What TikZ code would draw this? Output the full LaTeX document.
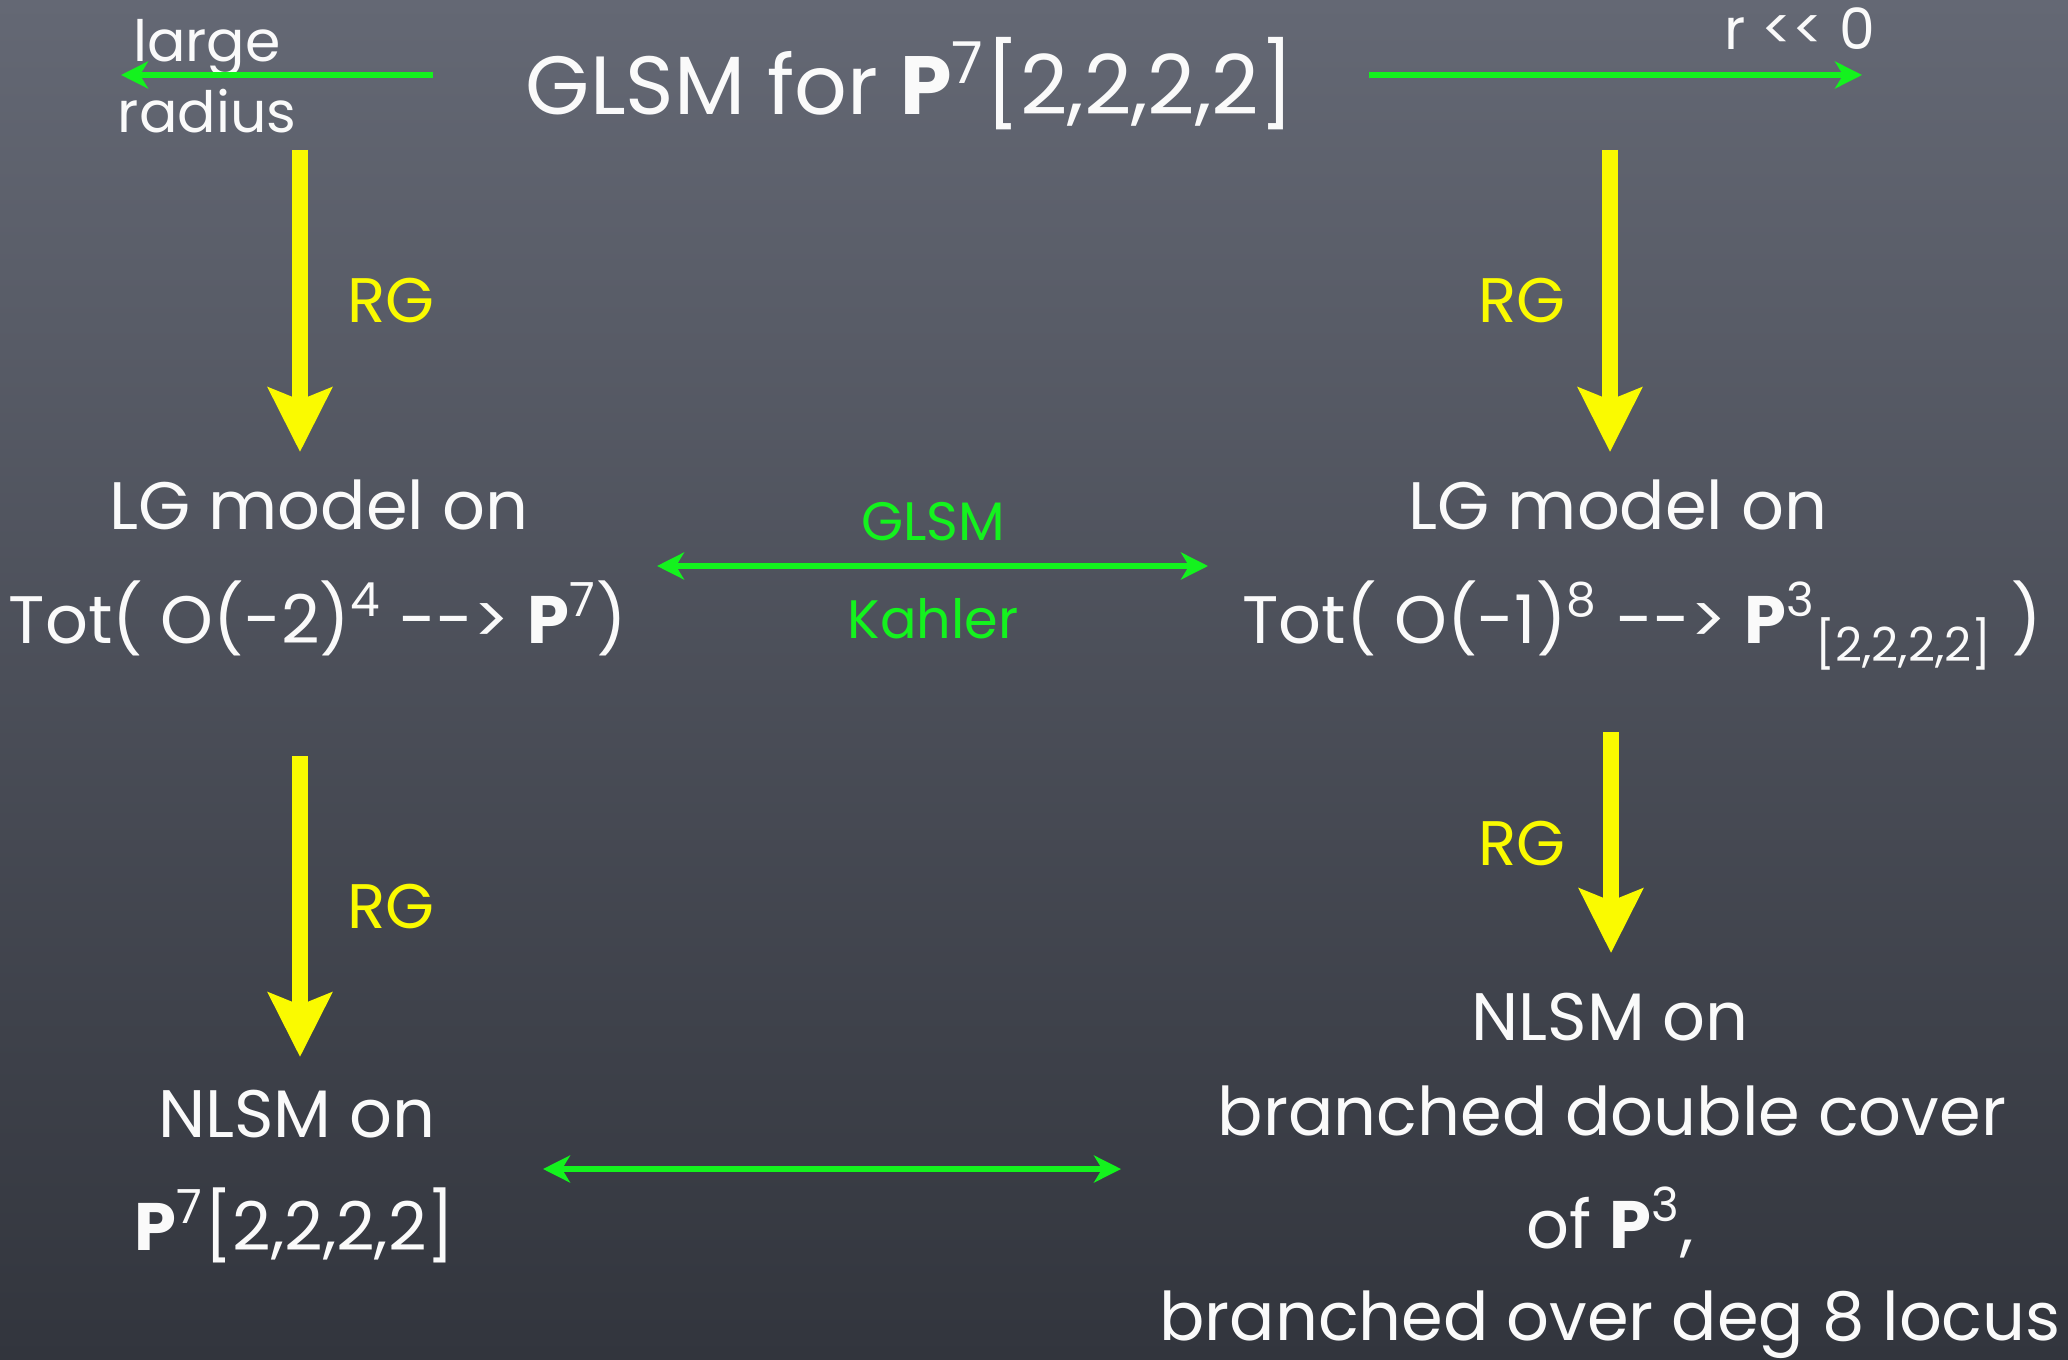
\documentclass[tikz,border=0pt]{standalone}
\usepackage{fontspec}
\setmainfont{Poppins}
\usetikzlibrary{arrows.meta}

\definecolor{boardtop}{RGB}{100,104,116}
\definecolor{boardbot}{RGB}{50,53,61}
\definecolor{chalk}{RGB}{250,250,250}
\definecolor{rgyellow}{RGB}{250,250,0}
\definecolor{glsmgreen}{RGB}{20,242,30}

\tikzset{
  chalktext/.style={text=chalk, inner sep=0pt, anchor=base},
  bigtext/.style={chalktext, font=\fontsize{19.1}{23}\selectfont},
  smalltext/.style={chalktext, font=\fontsize{16.2}{19}\selectfont},
  rglabel/.style={text=rgyellow, inner sep=0pt, anchor=base, font=\fontsize{17.9}{21}\selectfont},
  greenlabel/.style={text=glsmgreen, inner sep=0pt, anchor=base, font=\fontsize{15.4}{18}\selectfont},
  rgarrow/.style={draw=rgyellow, line width=4.5pt, -{Stealth[length=6.4mm, width=6.3mm, inset=1.2mm, fill=rgyellow]}},
  flowarrow/.style={draw=glsmgreen, line width=1.5pt, -{Stealth[length=2.7mm, width=2.7mm, inset=0.8mm]}},
  dualarrow/.style={draw=glsmgreen, line width=1.5pt, {Stealth[length=2.7mm, width=2.7mm, inset=0.8mm]}-{Stealth[length=2.7mm, width=2.7mm, inset=0.8mm]}}
}

\begin{document}
\begin{tikzpicture}
\fill[top color=boardtop, bottom color=boardbot] (0,0) rectangle (20.68,13.59);
\useasboundingbox (0,0) rectangle (20.68,13.59);

\node[chalktext, font=\fontsize{23.5}{28}\selectfont] (title) at (9.10,12.44) {GLSM for \textbf{P}\textsuperscript{7}[2,2,2,2]};
\node[smalltext] (large) at (2.07,12.97) {large};
\node[smalltext] (radius) at (2.07,12.26) {radius};
\node[smalltext] (rneg) at (18.00,13.09) {r {<}{<} 0};

\node[bigtext] (lgL) at (3.19,8.29) {LG model on};
\node[bigtext] (totL) at (3.18,7.16) {Tot( O(-2)\textsuperscript{4} {-}{-}> \textbf{P}\textsuperscript{7})};
\node[bigtext] (lgR) at (16.18,8.29) {LG model on};
\node[bigtext] (totR) at (16.42,7.16) {Tot( O(-1)\textsuperscript{8} {-}{-}> \textbf{P}\textsuperscript{3}\textsubscript{[2,2,2,2]} )};

\node[bigtext] (nlsmL) at (2.97,2.22) {NLSM on};
\node[bigtext] (quadL) at (2.95,1.09) {\textbf{P}\textsuperscript{7}[2,2,2,2]};
\node[bigtext] (nlsmR) at (16.10,3.19) {NLSM on};
\node[bigtext] (coverR) at (16.12,2.24) {branched double cover};
\node[bigtext] (ofR) at (16.10,1.11) {of \textbf{P}\textsuperscript{3},};
\node[bigtext] (locusR) at (16.10,0.19) {branched over deg 8 locus};

\node[rglabel] (rg1) at (3.91,10.36) {RG};
\node[rglabel] (rg2) at (15.22,10.36) {RG};
\node[rglabel] (rg3) at (3.91,4.31) {RG};
\node[rglabel] (rg4) at (15.22,4.94) {RG};

\node[greenlabel] (glsm) at (9.33,8.19) {GLSM};
\node[greenlabel] (kahler) at (9.33,7.21) {Kahler};

\coordinate (a1s) at (3.00,12.09);
\coordinate (a1e) at (3.00,9.07);
\coordinate (a2s) at (16.10,12.09);
\coordinate (a2e) at (16.10,9.07);
\coordinate (a3s) at (3.00,6.03);
\coordinate (a3e) at (3.00,3.02);
\coordinate (a4s) at (16.11,6.27);
\coordinate (a4e) at (16.11,4.06);

\coordinate (lrs) at (4.33,12.84);
\coordinate (lre) at (1.21,12.84);
\coordinate (rns) at (13.69,12.84);
\coordinate (rne) at (18.62,12.84);
\coordinate (kL) at (6.57,7.93);
\coordinate (kR) at (12.08,7.93);
\coordinate (nL) at (5.43,1.90);
\coordinate (nR) at (11.21,1.90);

\draw[rgarrow] (a1s) -- (a1e);
\draw[rgarrow] (a2s) -- (a2e);
\draw[rgarrow] (a3s) -- (a3e);
\draw[rgarrow] (a4s) -- (a4e);

\draw[flowarrow] (lrs) -- (lre);
\draw[flowarrow] (rns) -- (rne);
\draw[dualarrow] (kL) -- (kR);
\draw[dualarrow] (nL) -- (nR);
\end{tikzpicture}
\end{document}
